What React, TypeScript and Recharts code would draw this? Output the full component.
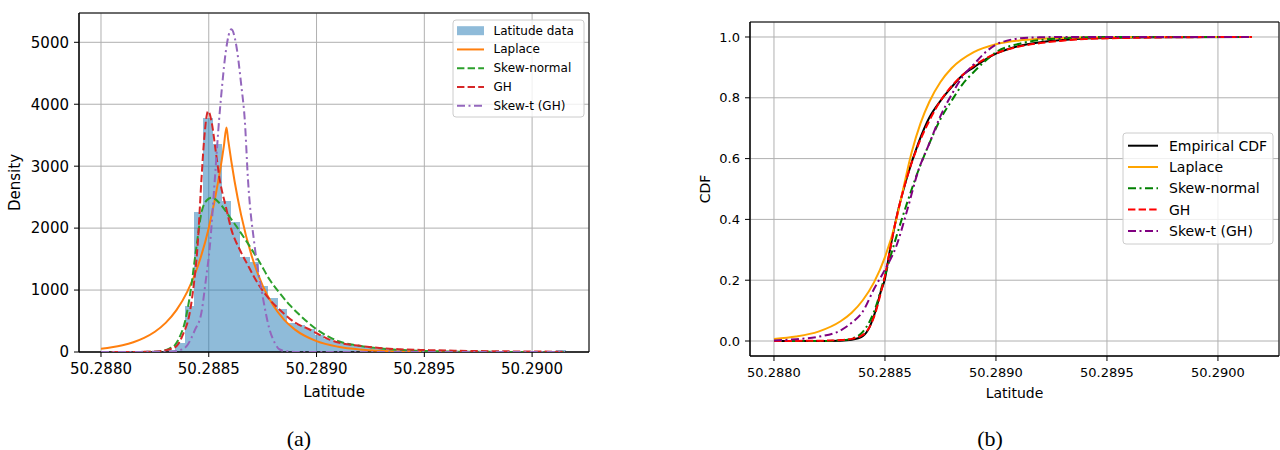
import React from "react";
import {
  BarChart,
  Bar,
  LineChart,
  Line,
  XAxis,
  YAxis,
  CartesianGrid,
  ReferenceArea,
  Label,
} from "recharts";

const FONT = "'DejaVu Sans', sans-serif";
const SERIF = "'Liberation Serif', 'Times New Roman', serif";

// axes
const latTicks = [50.288, 50.2885, 50.289, 50.2895, 50.29];
const xDomainA = [50.287898, 50.290264];
const xDomainB = [50.287892, 50.290275];
const densityTicks = [0, 1000, 2000, 3000, 4000, 5000];
const densityDomain = [0, 5473];
const cdfTicks = [0, 0.2, 0.4, 0.6, 0.8, 1.0];
const cdfDomain = [-0.0493, 1.0493];

// (a) histogram, 50 bins
const binCenters = [
  50.2880216, 50.2880647, 50.2881078, 50.2881509, 50.288194, 50.2882372, 50.2882803, 50.2883234, 50.2883665, 50.2884096,
  50.2884528, 50.2884959, 50.288539, 50.2885821, 50.2886252, 50.2886684, 50.2887115, 50.2887546, 50.2887977, 50.2888408,
  50.288884, 50.2889271, 50.2889702, 50.2890133, 50.2890564, 50.2890996, 50.2891427, 50.2891858, 50.2892289, 50.289272,
  50.2893152, 50.2893583, 50.2894014, 50.2894445, 50.2894876, 50.2895308, 50.2895739, 50.289617, 50.2896601, 50.2897032,
  50.2897464, 50.2897895, 50.2898326, 50.2898757, 50.2899188, 50.289962, 50.2900051, 50.2900482, 50.2900913, 50.2901344,
];
const binDensity = [
  0, 0, 0, 0, 0, 5, 15, 40, 150, 750,
  2260, 3777, 3358, 2432, 2094, 1530, 1450, 1070, 870, 690,
  470, 430, 365, 280, 210, 160, 125, 100, 85, 70,
  55, 45, 38, 30, 25, 20, 17, 15, 12, 10,
  8, 7, 6, 5, 4, 4, 3, 3, 2, 40,
];
const binStep = 0.0000431;

// (a) fitted densities [latitude, density]
const laplacePdf = [
  [50.288, 54], [50.28805, 77], [50.2881, 110], [50.28815, 158], [50.2882, 228],
  [50.28825, 327], [50.2883, 470], [50.28835, 675], [50.2884, 970], [50.28845, 1393],
  [50.2885, 2002], [50.28855, 2876], [50.28857, 3324], [50.288582, 3626], [50.28859, 3423],
  [50.28862, 2752], [50.28865, 2214], [50.2887, 1541], [50.28875, 1073], [50.2888, 746],
  [50.28885, 519], [50.2889, 361], [50.289, 175], [50.2891, 85], [50.2892, 41],
  [50.2894, 10], [50.2897, 1], [50.290153, 0],
];
const skewNormalPdf = [
  [50.288, 0], [50.288181, 0], [50.288273, 10], [50.288319, 60], [50.288343, 110],
  [50.288366, 250], [50.288389, 480], [50.288412, 900], [50.288443, 1700], [50.288466, 2250],
  [50.288491, 2450], [50.288514, 2490], [50.288551, 2400], [50.288597, 2180], [50.288628, 2030],
  [50.28869, 1706], [50.288736, 1450], [50.288782, 1170], [50.288829, 950], [50.288875, 760],
  [50.288921, 600], [50.288995, 380], [50.28906, 240], [50.289106, 170], [50.289199, 100],
  [50.289292, 60], [50.289384, 35], [50.289523, 15], [50.289662, 6], [50.289847, 2], [50.290153, 0],
];
const ghPdf = [
  [50.288, 0], [50.288227, 3], [50.288273, 12], [50.288319, 45], [50.28835, 94],
  [50.28838, 280], [50.288412, 637], [50.288431, 1100], [50.288448, 1706], [50.288466, 2782],
  [50.288479, 3450], [50.288497, 3890], [50.288514, 3700], [50.288532, 3250], [50.288551, 2782],
  [50.288579, 2350], [50.288605, 1976], [50.288644, 1650], [50.288675, 1443], [50.288736, 1061],
  [50.288782, 850], [50.288843, 637], [50.288898, 480], [50.288968, 363], [50.28906, 200],
  [50.289106, 150], [50.289199, 100], [50.289292, 65], [50.289384, 45], [50.289523, 30],
  [50.289662, 20], [50.289847, 12], [50.289986, 8], [50.290153, 5],
];
const skewTPdf = [
  [50.288, 0], [50.288319, 5], [50.288366, 30], [50.288397, 94], [50.288435, 350],
  [50.288466, 637], [50.288486, 1150], [50.288505, 1706], [50.288528, 2782], [50.288548, 3750],
  [50.288562, 4300], [50.288579, 4850], [50.288605, 5210], [50.288625, 5000], [50.288651, 4300],
  [50.288667, 3750], [50.288682, 2782], [50.288713, 1706], [50.28875, 900], [50.288782, 363],
  [50.288806, 150], [50.288829, 40], [50.288875, 5], [50.288921, 0], [50.290153, 0],
];

// (b) CDFs [latitude, probability]
const empiricalCdf = [
  [50.288, 0], [50.2882, 0], [50.2883, 0.001], [50.28835, 0.004], [50.2884, 0.016],
  [50.28843, 0.045], [50.28846, 0.105], [50.28848, 0.16], [50.2885, 0.205], [50.28852, 0.29],
  [50.28855, 0.4], [50.2886, 0.54], [50.28865, 0.65], [50.2887, 0.735], [50.28875, 0.79],
  [50.2888, 0.835], [50.28885, 0.875], [50.2889, 0.9], [50.28895, 0.925], [50.289, 0.945],
  [50.2891, 0.97], [50.2892, 0.983], [50.2893, 0.99], [50.2894, 0.995], [50.2896, 0.998],
  [50.2898, 0.999], [50.290153, 1],
];
const laplaceCdf = [
  [50.288, 0.007], [50.2881, 0.015], [50.2882, 0.031], [50.2883, 0.065], [50.28835, 0.093],
  [50.2884, 0.134], [50.28845, 0.192], [50.2885, 0.276], [50.28855, 0.396], [50.288582, 0.5],
  [50.28862, 0.62], [50.28866, 0.716], [50.2887, 0.787], [50.28875, 0.852], [50.2888, 0.897],
  [50.2889, 0.95], [50.289, 0.976], [50.2891, 0.988], [50.2892, 0.994], [50.2894, 0.9985],
  [50.2897, 1], [50.290153, 1],
];
const skewNormalCdf = [
  [50.288, 0], [50.2882, 0], [50.2883, 0.002], [50.28835, 0.008], [50.2884, 0.03],
  [50.28845, 0.095], [50.2885, 0.215], [50.28855, 0.34], [50.2886, 0.455], [50.28865, 0.56],
  [50.2887, 0.65], [50.28875, 0.73], [50.2888, 0.79], [50.28885, 0.845], [50.2889, 0.885],
  [50.28895, 0.92], [50.289, 0.95], [50.2891, 0.977], [50.2892, 0.99], [50.2893, 0.996],
  [50.2895, 1], [50.290153, 1],
];
const ghCdf = [
  [50.288, 0], [50.2882, 0.001], [50.2883, 0.003], [50.28835, 0.007], [50.2884, 0.02],
  [50.28843, 0.045], [50.28846, 0.1], [50.28848, 0.155], [50.2885, 0.215], [50.28852, 0.29],
  [50.28855, 0.4], [50.2886, 0.54], [50.28865, 0.645], [50.2887, 0.725], [50.28875, 0.79],
  [50.2888, 0.838], [50.28885, 0.875], [50.2889, 0.905], [50.28895, 0.928], [50.289, 0.946],
  [50.2891, 0.968], [50.2892, 0.98], [50.2893, 0.988], [50.2894, 0.993], [50.2896, 0.997],
  [50.2898, 0.999], [50.290153, 1],
];
const skewTCdf = [
  [50.288, 0.002], [50.2881, 0.006], [50.2882, 0.014], [50.2883, 0.035], [50.28835, 0.06],
  [50.2884, 0.097], [50.28845, 0.17], [50.2885, 0.235], [50.28855, 0.31], [50.2886, 0.43],
  [50.28865, 0.56], [50.2887, 0.65], [50.28875, 0.74], [50.2888, 0.81], [50.28885, 0.87],
  [50.2889, 0.91], [50.28895, 0.948], [50.289, 0.975], [50.28905, 0.988], [50.2891, 0.995],
  [50.2892, 0.999], [50.2893, 1], [50.290153, 1],
];

const histRows = binCenters.map((x, i) => ({ x, h: binDensity[i] }));
const rows = (pts: number[][]) => pts.map(([x, y]) => ({ x, y }));

const DASH = "7.4 3.2";
const DASHDOT = "8 3.5 2 3.5";

type LegendItem = { label: string; color: string; dash?: string; patch?: boolean };

const legendA: LegendItem[] = [
  { label: "Latitude data", color: "#1f77b4", patch: true },
  { label: "Laplace", color: "#ff7f0e" },
  { label: "Skew-normal", color: "#2ca02c", dash: DASH },
  { label: "GH", color: "#d62728", dash: DASH },
  { label: "Skew-t (GH)", color: "#9467bd", dash: DASHDOT },
];
const legendB: LegendItem[] = [
  { label: "Empirical CDF", color: "#000000" },
  { label: "Laplace", color: "#ffa500" },
  { label: "Skew-normal", color: "#008000", dash: DASHDOT },
  { label: "GH", color: "#ff0000", dash: DASH },
  { label: "Skew-t (GH)", color: "#800080", dash: DASHDOT },
];

function LegendBox(props: {
  items: LegendItem[];
  left: number;
  top: number;
  width: number;
  height: number;
  firstRow: number;
  rowGap: number;
  handleX: number;
  handleLen: number;
  textX: number;
  fontSize: number;
}) {
  const { items, left, top, width, height, firstRow, rowGap, handleX, handleLen, textX, fontSize } = props;
  return (
    <svg
      width={width + 2}
      height={height + 2}
      style={{ position: "absolute", left: left - 1, top: top - 1, overflow: "visible" }}
    >
      <rect
        x={1}
        y={1}
        width={width}
        height={height}
        rx={3}
        fill="rgba(255,255,255,0.8)"
        stroke="#cccccc"
        strokeWidth={1}
      />
      {items.map((it, i) => {
        const cy = 1 + firstRow + i * rowGap;
        return (
          <g key={it.label}>
            {it.patch ? (
              <rect x={1 + handleX} y={cy - 4.5} width={handleLen} height={9} fill={it.color} fillOpacity={0.5} />
            ) : (
              <line
                x1={1 + handleX}
                x2={1 + handleX + handleLen}
                y1={cy}
                y2={cy}
                stroke={it.color}
                strokeWidth={2}
                strokeDasharray={it.dash}
              />
            )}
            <text
              x={1 + textX}
              y={cy}
              dominantBaseline="central"
              fontFamily={FONT}
              fontSize={fontSize}
              fill="#000"
            >
              {it.label}
            </text>
          </g>
        );
      })}
    </svg>
  );
}

// histogram bar without antialiased seams between neighbours
function HistBar(p: any) {
  if (!p.height || p.height <= 0) return null;
  return (
    <rect
      x={p.x}
      y={p.y}
      width={p.width}
      height={p.height}
      fill="#1f77b4"
      fillOpacity={0.5}
      shapeRendering="crispEdges"
    />
  );
}

const tickA = { fill: "#000", fontSize: 15, fontFamily: FONT };
const labelA = { fill: "#000", fontSize: 15, fontFamily: FONT, textAnchor: "middle" as const };
const tickB = { fill: "#000", fontSize: 13, fontFamily: FONT };
const labelB = { fill: "#000", fontSize: 14, fontFamily: FONT, textAnchor: "middle" as const };

function PanelA() {
  // pixel width of one bin, just under the band so recharts keeps it as given
  const barPx = (binStep / (xDomainA[1] - xDomainA[0])) * 510 - 0.01;
  return (
    <div style={{ position: "absolute", left: 0, top: 0, width: 600, height: 410 }}>
      <div style={{ position: "absolute", left: 0, top: 0 }}>
        <BarChart
          width={600}
          height={410}
          data={histRows}
          margin={{ top: 13, right: 11, left: 0, bottom: 0 }}
          barCategoryGap={0}
          barGap={0}
        >
          <CartesianGrid stroke="#b0b0b0" strokeWidth={1} />
          <XAxis
            dataKey="x"
            type="number"
            domain={xDomainA}
            ticks={latTicks}
            allowDataOverflow
            height={58}
            tickSize={5}
            tickMargin={6}
            tick={tickA}
            tickFormatter={(v: number) => v.toFixed(4)}
            axisLine={{ stroke: "#000" }}
            tickLine={{ stroke: "#000" }}
          >
            <Label value="Latitude" position="insideBottom" offset={13} style={labelA} />
          </XAxis>
          <YAxis
            type="number"
            domain={densityDomain}
            ticks={densityTicks}
            allowDataOverflow
            width={79}
            tickSize={5}
            tickMargin={5}
            tick={tickA}
            axisLine={{ stroke: "#000" }}
            tickLine={{ stroke: "#000" }}
          >
            <Label value="Density" angle={-90} position="insideLeft" offset={15} style={labelA} />
          </YAxis>
          <Bar dataKey="h" fill="#1f77b4" fillOpacity={0.5} barSize={barPx} shape={HistBar} isAnimationActive={false} />
        </BarChart>
      </div>
      <div style={{ position: "absolute", left: 0, top: 0 }}>
        <LineChart width={600} height={410} margin={{ top: 13, right: 11, left: 79, bottom: 58 }}>
          <XAxis dataKey="x" type="number" domain={xDomainA} allowDataOverflow hide />
          <YAxis type="number" domain={densityDomain} allowDataOverflow hide />
          <Line data={rows(laplacePdf)} dataKey="y" type="monotone" stroke="#ff7f0e" strokeWidth={2} dot={false} isAnimationActive={false} />
          <Line data={rows(skewNormalPdf)} dataKey="y" type="monotone" stroke="#2ca02c" strokeWidth={2} strokeDasharray={DASH} dot={false} isAnimationActive={false} />
          <Line data={rows(ghPdf)} dataKey="y" type="monotone" stroke="#d62728" strokeWidth={2} strokeDasharray={DASH} dot={false} isAnimationActive={false} />
          <Line data={rows(skewTPdf)} dataKey="y" type="monotone" stroke="#9467bd" strokeWidth={2} strokeDasharray={DASHDOT} dot={false} isAnimationActive={false} />
          <ReferenceArea x1={xDomainA[0]} x2={xDomainA[1]} y1={densityDomain[0]} y2={densityDomain[1]} fill="none" stroke="#000" strokeWidth={1} ifOverflow="visible" />
        </LineChart>
      </div>
    </div>
  );
}

function PanelB() {
  return (
    <div style={{ position: "absolute", left: 650, top: 0, width: 630, height: 410 }}>
      <LineChart width={630} height={410} margin={{ top: 22, right: 1, left: 0, bottom: 0 }}>
        <CartesianGrid stroke="#b0b0b0" strokeWidth={1} />
        <XAxis
          dataKey="x"
          type="number"
          domain={xDomainB}
          ticks={latTicks}
          allowDataOverflow
          height={54}
          tickSize={5}
          tickMargin={7}
          tick={tickB}
          tickFormatter={(v: number) => v.toFixed(4)}
          axisLine={{ stroke: "#000" }}
          tickLine={{ stroke: "#000" }}
        >
          <Label value="Latitude" position="insideBottom" offset={12} style={labelB} />
        </XAxis>
        <YAxis
          type="number"
          domain={cdfDomain}
          ticks={cdfTicks}
          allowDataOverflow
          width={100}
          tickSize={5}
          tickMargin={5}
          tick={tickB}
          tickFormatter={(v: number) => v.toFixed(1)}
          axisLine={{ stroke: "#000" }}
          tickLine={{ stroke: "#000" }}
        >
          <Label value="CDF" angle={-90} position="insideLeft" offset={55} style={labelB} />
        </YAxis>
        <Line data={rows(empiricalCdf)} dataKey="y" type="monotone" stroke="#000000" strokeWidth={2} dot={false} isAnimationActive={false} />
        <Line data={rows(laplaceCdf)} dataKey="y" type="monotone" stroke="#ffa500" strokeWidth={2} dot={false} isAnimationActive={false} />
        <Line data={rows(skewNormalCdf)} dataKey="y" type="monotone" stroke="#008000" strokeWidth={2} strokeDasharray={DASHDOT} dot={false} isAnimationActive={false} />
        <Line data={rows(ghCdf)} dataKey="y" type="monotone" stroke="#ff0000" strokeWidth={2} strokeDasharray={DASH} dot={false} isAnimationActive={false} />
        <Line data={rows(skewTCdf)} dataKey="y" type="monotone" stroke="#800080" strokeWidth={2} strokeDasharray={DASHDOT} dot={false} isAnimationActive={false} />
        <ReferenceArea x1={xDomainB[0]} x2={xDomainB[1]} y1={cdfDomain[0]} y2={cdfDomain[1]} fill="none" stroke="#000" strokeWidth={1} ifOverflow="visible" />
      </LineChart>
    </div>
  );
}

export default function App() {
  return (
    <div style={{ position: "absolute", left: 0, top: 0, width: 1280, height: 450, background: "#fff" }}>
      <PanelA />
      <PanelB />
      <LegendBox
        items={legendA}
        left={453}
        top={20}
        width={131}
        height={97}
        firstRow={10.7}
        rowGap={18.75}
        handleX={4}
        handleLen={27}
        textX={40.5}
        fontSize={12}
      />
      <LegendBox
        items={legendB}
        left={1123}
        top={133}
        width={150}
        height={111}
        firstRow={12.7}
        rowGap={21.3}
        handleX={5}
        handleLen={30}
        textX={46}
        fontSize={14}
      />
      <svg width={1280} height={40} style={{ position: "absolute", left: 0, top: 410 }}>
        <text x={299} y={36} textAnchor="middle" fontFamily={SERIF} fontSize={22} fill="#000">
          (a)
        </text>
        <text x={990} y={36} textAnchor="middle" fontFamily={SERIF} fontSize={22} fill="#000">
          (b)
        </text>
      </svg>
    </div>
  );
}
